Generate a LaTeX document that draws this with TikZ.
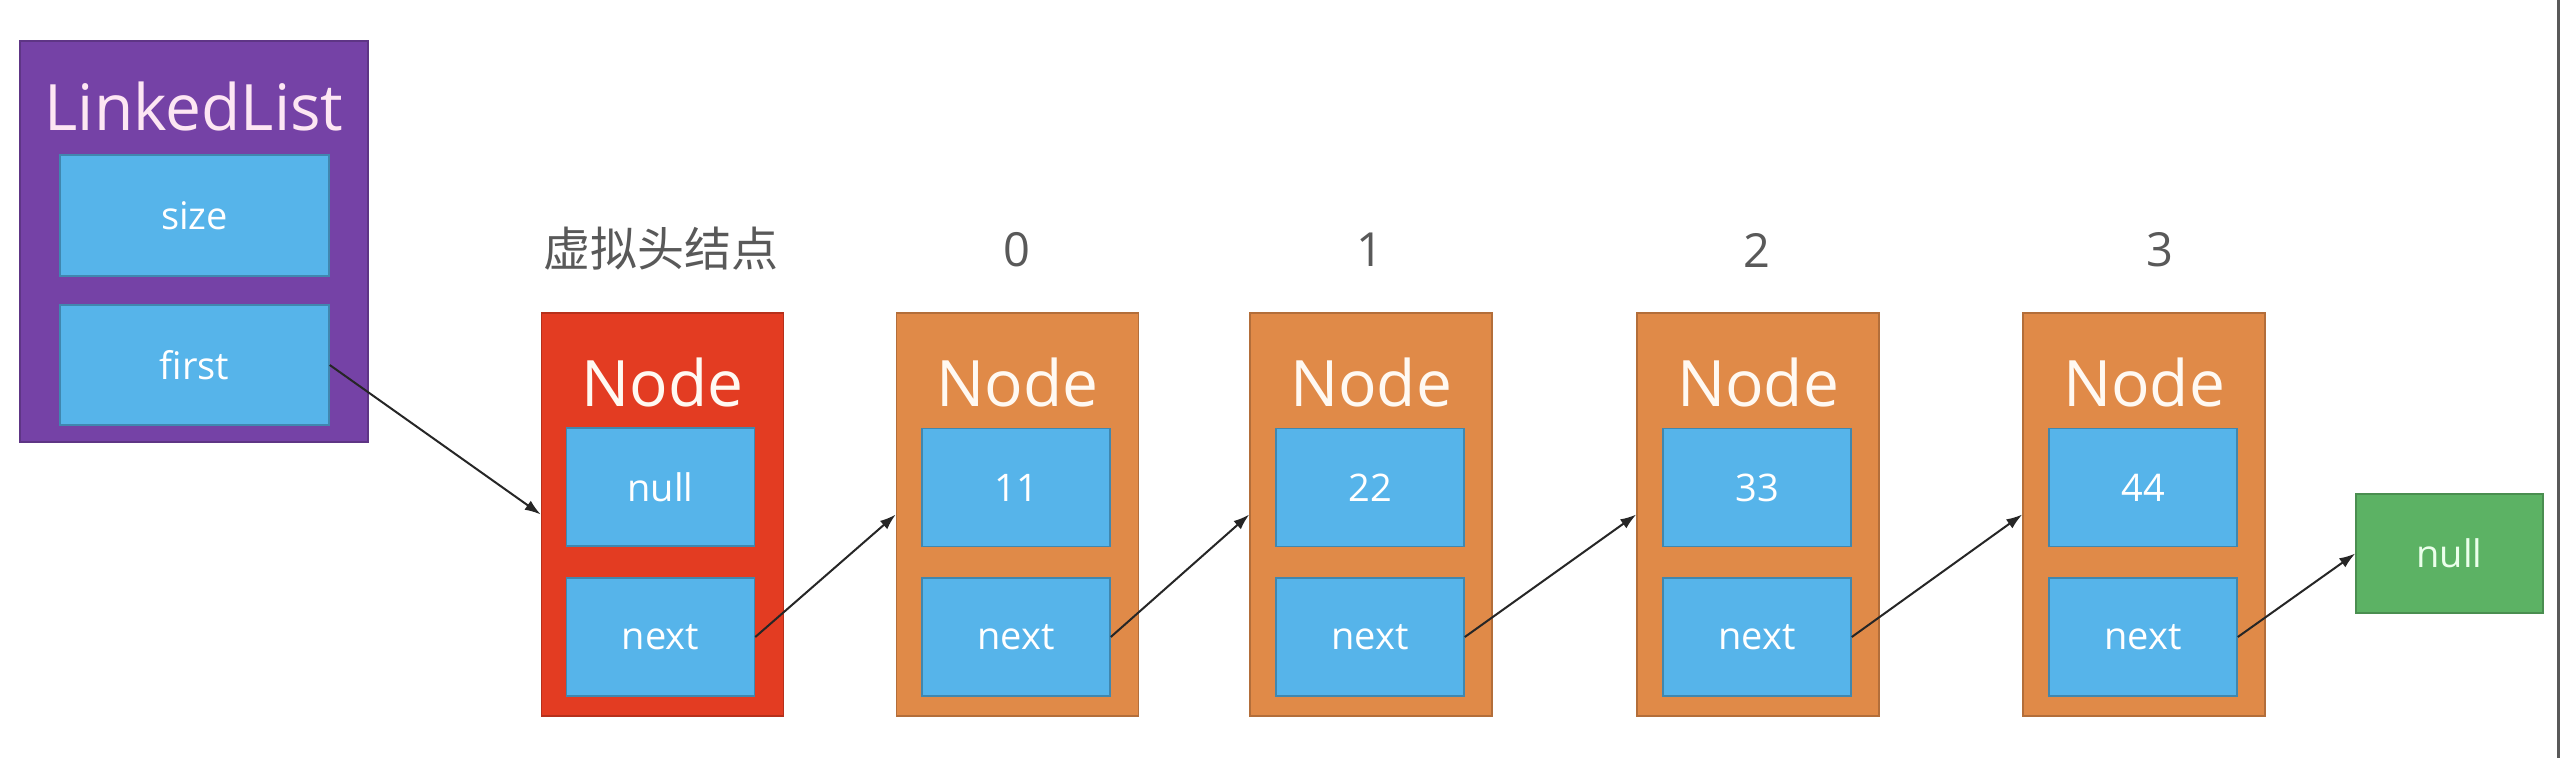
\documentclass[tikz,border=0pt]{standalone}
\usepackage{fontspec}
\setmainfont{Open Sans}
\newfontfamily\cjk{Noto Sans CJK SC}
\usetikzlibrary{arrows.meta}
\definecolor{cpurple}{HTML}{7542A6}
\definecolor{cblue}{HTML}{56B4EA}
\definecolor{corange}{HTML}{E08A48}
\definecolor{cred}{HTML}{E33C22}
\definecolor{cgreen}{HTML}{5CB264}
\definecolor{cgray}{HTML}{595959}
\tikzset{
  outerbox/.style={draw=#1!80!black, line width=1.5pt, fill=#1, minimum width=242pt, minimum height=403pt, inner sep=0pt},
  bluebox/.style={draw=cblue!75!black, line width=1.5pt, fill=cblue, minimum width=188pt, minimum height=118pt, inner sep=0pt, text=white, font=\fontsize{38}{42}\selectfont},
  nodetitle/.style={inner sep=0pt, text=#1, font=\fontsize{64}{70}\selectfont},
  idxlabel/.style={inner sep=0pt, text=cgray, font=\fontsize{47}{50}\selectfont},
  link/.style={draw=black!85, line width=2pt, -{Latex[length=16pt,width=11pt]}}
}
\begin{document}
\begin{tikzpicture}[x=1pt,y=-1pt]
\useasboundingbox (0,0) rectangle (2562,758);
\fill[white] (0,0) rectangle (2562,758);
% right border line
\draw[line width=2.5pt, draw=black!65] (2558.5,0) -- (2558.5,758);

% LinkedList
\node[draw=cpurple!80!black, line width=1.5pt, fill=cpurple, minimum width=348pt, minimum height=401pt, inner sep=0pt] (ll) at (194,241.5) {};
\node[nodetitle={white!90!magenta}] (lltitle) at (194,106) {LinkedList};
\node[bluebox, minimum width=269pt, minimum height=121pt] (size) at (194.5,215.5) {size};
\node[bluebox, minimum width=269pt, minimum height=120pt] (first) at (194.5,365) {first};

% dummy head node
\node[outerbox=cred] (h) at (662.5,514.5) {};
\node[nodetitle={white!95!orange}] (ht) at (662.5,382) {Node};
\node[bluebox] (hv) at (660.5,487) {null};
\node[bluebox] (hn) at (660.5,637) {next};
\node[inner sep=0pt, text=cgray, font=\cjk\fontsize{47}{50}\selectfont] (hl) at (661,249) {虚拟头结点};

% Node 0
\node[outerbox=corange] (a) at (1017.5,514.5) {};
\node[nodetitle={white!95!orange}] (at) at (1017.5,382) {Node};
\node[bluebox] (av) at (1016,487.5) {11};
\node[bluebox] (an) at (1016,637) {next};
\node[idxlabel] (al) at (1017,250) {0};

% Node 1
\node[outerbox=corange] (b) at (1371,514.5) {};
\node[nodetitle={white!95!orange}] (bt) at (1371,382) {Node};
\node[bluebox] (bv) at (1370,487.5) {22};
\node[bluebox] (bn) at (1370,637) {next};
\node[idxlabel] (bl) at (1370,250) {1};

% Node 2
\node[outerbox=corange] (c) at (1758,514.5) {};
\node[nodetitle={white!95!orange}] (ct) at (1758,382) {Node};
\node[bluebox] (cv) at (1757,487.5) {33};
\node[bluebox] (cn) at (1757,637) {next};
\node[idxlabel] (cl) at (1757,250) {2};

% Node 3
\node[outerbox=corange] (d) at (2144,514.5) {};
\node[nodetitle={white!95!orange}] (dt) at (2144,382) {Node};
\node[bluebox] (dv) at (2143,487.5) {44};
\node[bluebox] (dn) at (2143,637) {next};
\node[idxlabel] (dl) at (2160,250) {3};

% null terminal
\node[draw=cgreen!80!black, line width=1.5pt, fill=cgreen, minimum width=187pt, minimum height=119pt, inner sep=0pt, text=white!92!green, font=\fontsize{38}{42}\selectfont] (z) at (2449.5,553.5) {null};

% links
\draw[link] (first.east) -- (h.west);
\draw[link] (hn.east) -- (a.west);
\draw[link] (an.east) -- (b.west);
\draw[link] (bn.east) -- (c.west);
\draw[link] (cn.east) -- (d.west);
\draw[link] (dn.east) -- (z.west);
\end{tikzpicture}
\end{document}
